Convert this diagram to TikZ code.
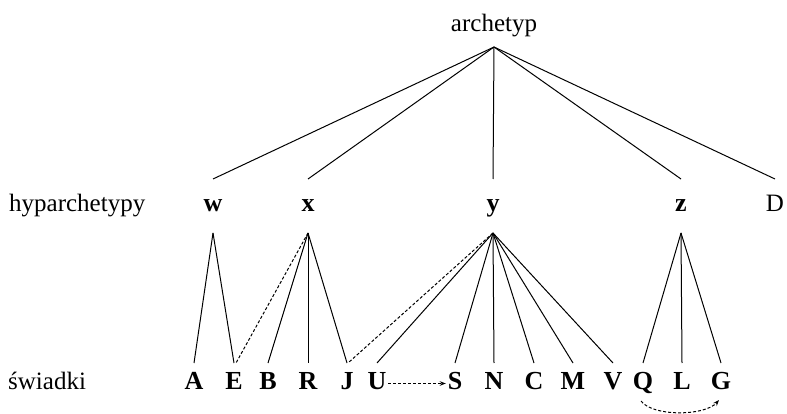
\documentclass[tikz,border=0pt]{standalone}
\usepackage{fontspec}
\setmainfont{Liberation Serif}
\usetikzlibrary{arrows.meta}
\begin{document}
\begin{tikzpicture}[x=1pt,y=-1pt,
  every node/.style={font=\fontsize{25}{29}\selectfont},
  bigbold/.style={font=\fontsize{26}{30}\selectfont\bfseries},
  label/.style={anchor=base west, inner sep=0pt},
  root/.style={anchor=base, inner sep=0pt, text depth=0pt, outer ysep=15pt},
  hyp/.style={anchor=base, inner sep=0pt, text height=12pt, text depth=0pt, outer ysep=21pt},
  wit/.style={anchor=base, inner sep=0pt, text height=16pt, text depth=5pt, outer ysep=10pt, outer xsep=2pt, bigbold},
  edge/.style={line width=1pt},
  link/.style={line width=1pt, dash pattern=on 3pt off 2pt},
  move/.style={line width=1pt, dash pattern=on 3pt off 2pt, -{Stealth[length=6pt,width=4.5pt]}}
]
\useasboundingbox (0,0) rectangle (787,414);

% row labels
\node[label] (lh) at (9,212) {hyparchetypy};
\node[label] (ls) at (8,389) {świadki};

% archetype
\node[root] (arch) at (494,32) {archetyp};

% hyparchetypes
\node[hyp, bigbold] (w) at (213,212) {w};
\node[hyp, bigbold] (x) at (308,212) {x};
\node[hyp, bigbold] (y) at (493,212) {y};
\node[hyp, bigbold] (z) at (681,212) {z};
\node[hyp] (D) at (775,212) {D};

% witnesses
\node[wit] (A) at (194,389) {A};
\node[wit] (E) at (234,389) {E};
\node[wit] (B) at (268,389) {B};
\node[wit] (R) at (308,389) {R};
\node[wit] (J) at (347,389) {J};
\node[wit] (U) at (377,389) {U};
\node[wit] (S) at (455,389) {S};
\node[wit] (N) at (494,389) {N};
\node[wit] (C) at (534,389) {C};
\node[wit] (M) at (573,389) {M};
\node[wit] (V) at (613,389) {V};
\node[wit] (Q) at (643,389) {Q};
\node[wit] (L) at (682,389) {L};
\node[wit] (G) at (721,389) {G};

% archetype to hyparchetypes
\foreach \h in {w,x,y,z,D}
  \draw[edge] (arch.south) -- (\h.north);

% hyparchetypes to witnesses
\foreach \h/\s in {w/A, w/E, x/B, x/R, x/J, y/U, y/S, y/N, y/C, y/M, y/V, z/Q, z/L, z/G}
  \draw[edge] (\h.south) -- (\s.north);

% contamination
\draw[link] (x.south) -- ([xshift=2pt]E.north);
\draw[link] (y.south) -- ([xshift=1pt]J.north);

% transfers
\draw[move] (U.east) -- (S.west);
\draw[move] ([shift={(-2,12)}]Q.base) .. controls +(12,16) and +(-14,16) .. ([shift={(-2,11)}]G.base);
\end{tikzpicture}
\end{document}
